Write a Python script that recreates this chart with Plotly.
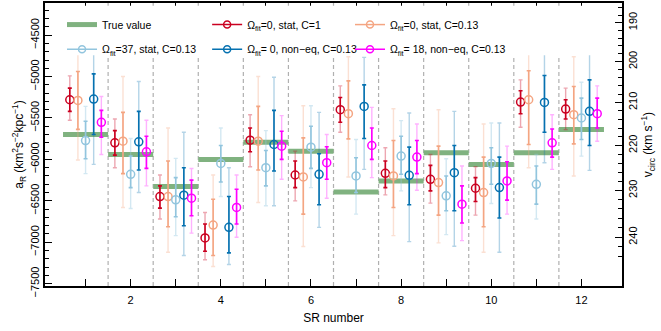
import plotly.graph_objects as go

sr = list(range(1, 13))
true_val = [-5700, -5940, -6328, -6000, -5792, -5900, -6392, -6260, -5920, -6060, -5920, -5640]

# Omega_fit=0, stat, C=1
red_val = [-5280, -5800, -6448, -6948, -5768, -6188, -5400, -6168, -6240, -6348, -5308, -5392]
red_hi1 = [-5140, -5652, -6320, -6780, -5620, -6020, -5252, -6020, -6072, -6220, -5172, -5280]
red_lo1 = [-5420, -5948, -6588, -7108, -5908, -6340, -5552, -6340, -6380, -6508, -5448, -5512]
red_hi2 = [-4992, -5512, -6188, -6640, -5460, -5900, -5112, -5860, -5940, -6088, -5040, -5140]
red_lo2 = [-5528, -6100, -6720, -7212, -6088, -6500, -5672, -6428, -6528, -6672, -5612, -5640]

# Omega_fit=0, stat, C=0.13
ora_val = [-5288, -5780, -6448, -6792, -5780, -6212, -5448, -6200, -6280, -6400, -5280, -5460]
ora_hi1 = [-4938, -5432, -6020, -6480, -5360, -5740, -5052, -5772, -5840, -5972, -4930, -5120]
ora_lo1 = [-5638, -6172, -6812, -7160, -6128, -6660, -5752, -6580, -6672, -6812, -5820, -5812]
ora_hi2 = [-4570, -5000, -5620, -6188, -5000, -5352, -4760, -5388, -5400, -5572, -4560, -4760]
ora_lo2 = [-6008, -6580, -7120, -7292, -6520, -7052, -6212, -6920, -7008, -7120, -6100, -6200]

# Omega_fit=37, stat, C=0.13
lbl_val = [-5772, -6180, -6488, -6048, -6100, -5852, -6200, -5960, -6440, -6048, -6300, -5500]
lbl_hi1 = [-5540, -5960, -6220, -5832, -5892, -5600, -5980, -5720, -6200, -5860, -6080, -5260]
lbl_lo1 = [-5992, -6340, -6692, -6272, -6320, -6108, -6400, -6180, -6620, -6300, -6540, -5760]
lbl_hi2 = [-5360, -5748, -5988, -5620, -5652, -5352, -5760, -5532, -5992, -5560, -5940, -5068]
lbl_lo2 = [-6172, -6592, -6920, -6448, -6560, -6340, -6660, -6380, -6908, -6532, -6720, -5960]

# Omega_fit=0, non-eq, C=0.13
blu_val = [-5272, -5788, -6432, -6820, -5820, -6180, -5360, -6192, -6160, -6340, -5312, -5420]
blu_hi1 = [-4968, -5420, -6100, -6448, -5408, -5932, -5100, -5852, -5832, -5972, -4988, -5040]
blu_lo1 = [-5700, -6128, -6800, -7128, -6140, -6548, -5748, -6548, -6620, -6708, -5672, -5832]
blu_hi2 = [-4480, -5060, -5672, -6100, -5008, -5432, -4768, -5440, -5420, -5560, -4600, -4732]
blu_lo2 = [-6060, -6400, -7160, -7268, -6560, -6820, -6120, -6992, -7048, -7120, -6040, -6132]

# Omega_fit=18, non-eq, C=0.13
mag_val = [-5552, -5908, -6468, -6580, -5840, -6040, -5832, -5972, -6540, -6260, -5800, -5448]
mag_hi1 = [-5408, -5720, -6250, -6360, -5660, -5848, -5620, -5772, -6320, -6028, -5632, -5260]
mag_lo1 = [-5732, -6108, -6680, -6780, -6000, -6240, -6000, -6172, -6768, -6492, -5972, -5620]
mag_hi2 = [-5240, -5528, -6110, -6188, -5472, -5700, -5372, -5572, -6080, -5840, -5460, -5112]
mag_lo2 = [-5940, -6320, -6890, -6940, -6240, -6468, -6220, -6372, -6980, -6660, -6120, -5780]

a_ticks = [-7500, -7000, -6500, -6000, -5500, -5000, -4500]
v_ticks = [190, 200, 210, 220, 230, 240]
r0 = 8.3

font = "Liberation Sans, Arial, sans-serif"
fig = go.Figure()

# true value segments
tx, ty = [], []
for s, t in zip(sr, true_val):
    tx += [s - 0.5, s + 0.5, None]
    ty += [t, t, None]
fig.add_trace(go.Scatter(x=tx, y=ty, mode="lines", line=dict(color="#80b280", width=5),
                         name="True value", legend="legend", hoverinfo="skip"))


def add_series(name, vals, hi1, lo1, hi2, lo2, color, light, off, leg):
    xs = [s + off for s in sr]
    fig.add_trace(go.Scatter(
        x=xs, y=vals, mode="markers", marker=dict(size=1, color="rgba(0,0,0,0)"),
        error_y=dict(type="data", symmetric=False,
                     array=[h - v for h, v in zip(hi2, vals)],
                     arrayminus=[v - l for v, l in zip(vals, lo2)],
                     color=light, thickness=1.4, width=2),
        showlegend=False, hoverinfo="skip"))
    fig.add_trace(go.Scatter(
        x=xs, y=vals, mode="markers",
        marker=dict(symbol="circle-open", size=8, color=color, line=dict(width=1.5, color=color)),
        error_y=dict(type="data", symmetric=False,
                     array=[h - v for h, v in zip(hi1, vals)],
                     arrayminus=[v - l for v, l in zip(vals, lo1)],
                     color=color, thickness=1.6, width=2),
        showlegend=False, hoverinfo="skip"))
    fig.add_trace(go.Scatter(
        x=[None], y=[None], mode="lines+markers", name=name, legend=leg,
        line=dict(color=color, width=1.5),
        marker=dict(symbol="circle-open", size=7, color=color, line=dict(width=1.5, color=color))))


add_series("Ω<sub>fit</sub>=0, stat, C=1", red_val, red_hi1, red_lo1, red_hi2, red_lo2,
           "#ca0020", "rgba(202,0,32,0.35)", -0.35, "legend2")
add_series("Ω<sub>fit</sub>=0, stat, C=0.13", ora_val, ora_hi1, ora_lo1, ora_hi2, ora_lo2,
           "#f4a582", "rgba(244,165,130,0.35)", -0.17, "legend3")
add_series("Ω<sub>fit</sub>=37, stat, C=0.13", lbl_val, lbl_hi1, lbl_lo1, lbl_hi2, lbl_lo2,
           "#92c5de", "rgba(146,197,222,0.4)", 0.0, "legend4")
add_series("Ω<sub>fit</sub>= 0, non−eq, C=0.13", blu_val, blu_hi1, blu_lo1, blu_hi2, blu_lo2,
           "#0571b0", "rgba(5,113,176,0.3)", 0.18, "legend5")
add_series("Ω<sub>fit</sub>= 18, non−eq, C=0.13", mag_val, mag_hi1, mag_lo1, mag_hi2, mag_lo2,
           "#ff00ff", "rgba(255,0,255,0.3)", 0.35, "legend6")

# dummy trace for right axis
fig.add_trace(go.Scatter(x=[None], y=[None], yaxis="y2", showlegend=False, hoverinfo="skip"))

for s in sr[:-1]:
    fig.add_shape(type="line", x0=s + 0.5, x1=s + 0.5, y0=0, y1=1, xref="x", yref="paper",
                  line=dict(color="#b0b0b0", width=1.2, dash="4px,3px"), layer="below")

# white box behind the legend
fig.add_shape(type="rect", xref="paper", yref="paper", x0=0.015, x1=0.96, y0=0.815, y1=0.99,
              fillcolor="white", line=dict(width=0), layer="above")

yr = [-7528, -4112]
leg_common = dict(orientation="v", xanchor="left", yanchor="top", bgcolor="rgba(0,0,0,0)",
                  font=dict(size=10.5), itemwidth=30)
cols = [0.0295, 0.281, 0.5286]
rows = [0.975, 0.888]
legs = {}
for i, key in enumerate(["legend", "legend2", "legend3", "legend4", "legend5", "legend6"]):
    legs[key] = dict(leg_common, x=cols[i % 3], y=rows[i // 3])

fig.update_layout(
    width=661, height=331,
    margin=dict(l=45, r=39, t=1, b=45),
    plot_bgcolor="white", paper_bgcolor="white",
    font=dict(family=font, size=11, color="black"),
    xaxis=dict(range=[0.1, 12.9], tickvals=[2, 4, 6, 8, 10, 12], ticks="inside", ticklen=7,
               tickwidth=1.3, tickcolor="black", showline=True, linewidth=2, linecolor="black",
               mirror="allticks", showgrid=False, zeroline=False, ticklabelstandoff=3,
               minor=dict(tickvals=[1, 3, 5, 7, 9, 11], ticks="inside", ticklen=4, tickcolor="black"),
               title=dict(text="SR number", font=dict(size=12), standoff=8),
               tickfont=dict(size=11)),
    yaxis=dict(range=yr, tickvals=a_ticks, ticktext=[str(t).replace("-", "−") for t in a_ticks],
               tickangle=-90, ticks="inside", ticklen=7, tickwidth=1.3, tickcolor="black",
               showline=True, linewidth=2, linecolor="black", showgrid=False, zeroline=False,
               minor=dict(tickvals=list(range(-7500, -4100, 100)), ticks="inside", ticklen=4,
                          tickcolor="black"),
               title=dict(text="a<sub>R</sub> (km<sup>2</sup>s<sup>−2</sup>kpc<sup>−1</sup>)",
                          font=dict(size=12), standoff=2),
               tickfont=dict(size=11)),
    yaxis2=dict(range=yr, overlaying="y", side="right",
                tickvals=[-v * v / r0 for v in v_ticks], ticktext=[str(v) for v in v_ticks],
                tickangle=-90, ticks="inside", ticklen=7, tickwidth=1.3, tickcolor="black",
                showline=True, linewidth=2, linecolor="black", showgrid=False, zeroline=False,
                minor=dict(tickvals=[-v * v / r0 for v in range(186, 246, 2)], ticks="inside",
                           ticklen=4, tickcolor="black"),
                title=dict(text="v<sub>circ</sub> (km s<sup>−1</sup>)", font=dict(size=12), standoff=2),
                tickfont=dict(size=11)),
    **legs,
)

fig.write_html("out.html", config={"displayModeBar": False},
               post_script="document.body.style.margin='0';")
